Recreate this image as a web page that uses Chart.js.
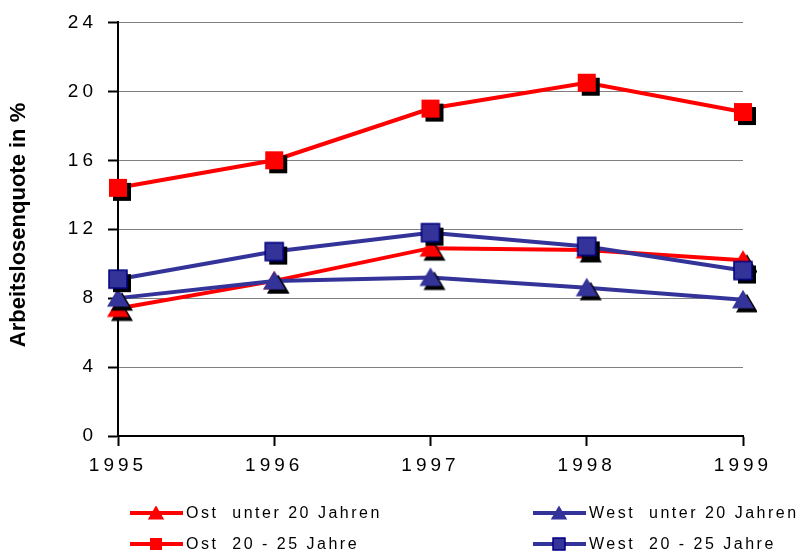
<!DOCTYPE html>
<html>
<head>
<meta charset="utf-8">
<script src="https://cdn.jsdelivr.net/npm/chart.js@4"></script>
<style>
  body { margin: 0; background: #fff; }
</style>
</head>
<body>
<canvas id="quote" width="799" height="554"></canvas>
<script>
const jahre = ["1995", "1996", "1997", "1998", "1999"];
const ostUnter20 = [7.4, 9.0, 10.9, 10.8, 10.2];
const westUnter20 = [8.0, 9.0, 9.2, 8.6, 7.9];
const ost2025 = [14.4, 16.0, 19.0, 20.5, 18.8];
const west2025 = [9.1, 10.7, 11.8, 11.0, 9.6];
const legendeNamen = ["Ost  unter 20 Jahren", "West  unter 20 Jahren", "Ost  20 - 25 Jahre", "West  20 - 25 Jahre"];

const ROT = "#ff0000";
const BLAU = "#333399";
const FONT = "'Liberation Sans', Arial, sans-serif";

function form(ctx, typ, cx, cy, s) {
    ctx.beginPath();
    if (typ === "quadrat") {
        ctx.rect(cx - s, cy - s, 2 * s, 2 * s);
    } else {
        ctx.moveTo(cx, cy - s);
        ctx.lineTo(cx + s * 1.1, cy + s * 0.85);
        ctx.lineTo(cx - s * 1.1, cy + s * 0.85);
        ctx.closePath();
    }
}

function marker(typ, farbe, rand, s, schatten) {
    const c = document.createElement("canvas");
    c.width = 34;
    c.height = 34;
    const ctx = c.getContext("2d");
    if (schatten) {
        ctx.fillStyle = "#000";
        form(ctx, typ, 17 + 4, 17 + 4, s);
        ctx.fill();
    }
    ctx.fillStyle = farbe;
    form(ctx, typ, 17, 17, s);
    ctx.fill();
    if (rand) {
        ctx.strokeStyle = rand;
        ctx.lineWidth = 1.5;
        ctx.stroke();
    }
    return c;
}

const marken = [
    marker("dreieck", ROT, null, 10, true),
    marker("dreieck", BLAU, null, 10, true),
    marker("quadrat", ROT, null, 9, true),
    marker("quadrat", BLAU, "#000080", 9, true),
];
const legendeMarken = [
    marker("dreieck", ROT, null, 7.5, false),
    marker("dreieck", BLAU, null, 7.5, false),
    marker("quadrat", ROT, null, 6, false),
    marker("quadrat", BLAU, "#000080", 6, false),
];
const farben = [ROT, BLAU, ROT, BLAU];

const extras = {
    id: "extras",
    beforeDraw(chart) {
        chart.ctx.letterSpacing = "4px";
    },
    afterDraw(chart) {
        const ctx = chart.ctx;
        ctx.save();
        ctx.letterSpacing = "0px";
        ctx.translate(19, 225);
        ctx.rotate(-Math.PI / 2);
        ctx.font = "bold 22px " + FONT;
        ctx.fillStyle = "#000";
        ctx.textAlign = "center";
        ctx.textBaseline = "middle";
        ctx.fillText("Arbeitslosenquote in %", 0, 0);
        ctx.restore();

        const pos = [[130, 513], [533, 513], [130, 544], [533, 544]];
        ctx.save();
        ctx.letterSpacing = "2.5px";
        ctx.font = "16px " + FONT;
        ctx.textBaseline = "middle";
        legendeNamen.forEach((name, i) => {
            const [x, y] = pos[i];
            ctx.strokeStyle = farben[i];
            ctx.lineWidth = 4;
            ctx.beginPath();
            ctx.moveTo(x, y);
            ctx.lineTo(x + 53, y);
            ctx.stroke();
            const m = legendeMarken[i];
            ctx.drawImage(m, x + 26 - m.width / 2, y - m.height / 2);
            ctx.fillStyle = "#000";
            ctx.fillText(name, x + 56, y + 1);
        });
        ctx.restore();
    },
};

function datensatz(label, werte, i) {
    return {
        label: label,
        data: werte,
        borderColor: farben[i],
        borderWidth: 4,
        pointStyle: marken[i],
        pointRadius: 10,
        tension: 0,
        fill: false,
    };
}

new Chart(document.getElementById("quote"), {
    type: "line",
    data: {
        labels: jahre,
        datasets: [
            datensatz(legendeNamen[3], west2025, 3),
            datensatz(legendeNamen[1], westUnter20, 1),
            datensatz(legendeNamen[0], ostUnter20, 0),
            datensatz(legendeNamen[2], ost2025, 2),
        ],
    },
    options: {
        responsive: false,
        animation: false,
        layout: { padding: { left: 0, right: 56, top: 22, bottom: 78 } },
        plugins: { legend: { display: false }, tooltip: { enabled: false } },
        scales: {
            x: {
                offset: false,
                grid: { drawOnChartArea: false, tickLength: 10, tickColor: "#000", tickWidth: 2 },
                border: { color: "#000", width: 2 },
                ticks: { color: "#000", font: { family: FONT, size: 19 }, padding: 8, maxRotation: 0 },
                afterFit(s) { s.height = 40; },
            },
            y: {
                min: 0,
                max: 24,
                grid: { color: "#808080", lineWidth: 1, tickLength: 10, tickColor: "#000", tickWidth: 2 },
                border: { color: "#000", width: 2 },
                ticks: { stepSize: 4, color: "#000", font: { family: FONT, size: 19 }, padding: 11 },
                afterFit(s) { s.width = 118; },
            },
        },
    },
    plugins: [extras],
});
</script>
</body>
</html>
